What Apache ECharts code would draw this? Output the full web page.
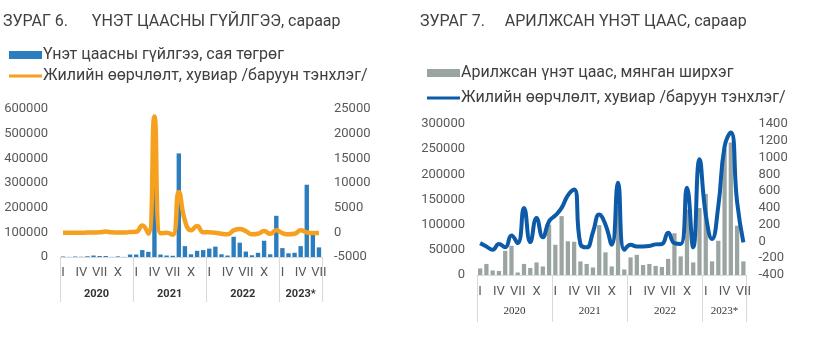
<!DOCTYPE html>
<html><head><meta charset="utf-8">
<script src="https://cdn.jsdelivr.net/npm/echarts@6/dist/echarts.min.js"></script>
<style>html,body{margin:0;padding:0;background:#fff}#c{width:825px;height:364px}</style>
</head><body><div id="c"></div>
<script>
// ---------- data ----------
const monthNames = ['I','II','III','IV','V','VI','VII','VIII','IX','X','XI','XII'];
const years = ['2020','2021','2022','2023*'];
const yearMonths = [12, 12, 12, 7];

const title1 = 'ЗУРАГ 6.      ҮНЭТ ЦААСНЫ ГҮЙЛГЭЭ, сараар';
const title2 = 'ЗУРАГ 7.     АРИЛЖСАН ҮНЭТ ЦААС, сараар';
const bar1Name = 'Үнэт цаасны гүйлгээ, сая төгрөг';
const line1Name = 'Жилийн өөрчлөлт, хувиар /баруун тэнхлэг/';
const bar2Name = 'Арилжсан үнэт цаас, мянган ширхэг';
const line2Name = 'Жилийн өөрчлөлт, хувиар /баруун тэнхлэг/';

// Figure 6: securities transactions, mln MNT (left) and y/y change % (right)
const bar1Values = [
  2000, 500, 2000, 1000, 3000, 6000, 4000, 4000, 500, 2500, 500, 10000,
  10000, 28000, 21000, 540000, 10000, 6000, 5000, 420000, 44000, 11000, 25000, 28000,
  34000, 42000, 11000, 6000, 82000, 58000, 22000, 7000, 17000, 66000, 11000, 167000,
  36000, 15000, 17000, 44000, 293000, 98000, 39000
];
const line1Values = [
  -100, -100, -100, -100, -50, -50, 0, 150, 0, -50, -50, 50,
  100, 1400, -300, 23500, -200, -100, -500, 8200, 2400, 400, 1300, 0,
  0, -100, -300, -400, 400, 700, 250, -400, -300, 250, -300, 400,
  -150, -400, -300, 400, 0, -150, -150
];
const left1Ticks = {min: 0, max: 600000, interval: 100000};
const right1Ticks = {min: -5000, max: 25000, interval: 5000};

// Figure 7: traded securities, thousand units (left) and y/y change % (right)
const bar2Values = [
  13000, 22000, 9000, 8000, 48000, 58000, 5000, 22000, 14000, 25000, 17000, 100000,
  60000, 117000, 67000, 66000, 27000, 22000, 15000, 99000, 45000, 17000, 136000, 11000,
  35000, 40000, 20000, 22000, 18000, 16000, 32000, 83000, 37000, 130000, 25000, 133000,
  161000, 27000, 68000, 250000, 263000, 98000, 27000
];
const line2Values = [
  -20, -60, -100, -30, -70, 70, -20, 400, -10, 280, 50, 240,
  310, 400, 550, 620, -30, -70, 110, 320, 200, -40, 700, -100,
  -40, -60, -60, -55, -35, -30, 105, -20, -30, 640, -70, 980,
  320, 30, 420, 1130, 1300, 470, -10
];
const left2Ticks = {min: 0, max: 300000, interval: 50000};
const right2Ticks = {min: -400, max: 1400, interval: 200};

// ---------- derived ----------
const categories = [];
years.forEach((y, yi) => { for (let m = 0; m < yearMonths[yi]; m++) categories.push(monthNames[m]); });
const total = categories.length;
const bounds = [0]; const mids = [];
yearMonths.forEach(n => { const s = bounds[bounds.length - 1]; mids.push(s + n / 2); bounds.push(s + n); });

const FONT = 'Roboto';
const AX = '#595959';

function monthAxis(grid, margin) {
  return {
    type: 'category', gridIndex: grid, data: categories, position: 'bottom',
    axisLine: {show: true, onZero: false, lineStyle: {color: '#d9d9d9', width: 1}},
    axisTick: {show: false},
    axisLabel: {interval: (i) => i % 3 === 0, margin: margin, fontSize: 13, color: AX, fontFamily: FONT}
  };
}
function yearAxis(grid, tickLen, margin, labelStyle) {
  return {
    type: 'value', gridIndex: grid, min: 0, max: total, position: 'bottom',
    axisLine: {show: false, onZero: false}, splitLine: {show: false},
    axisTick: {show: true, customValues: bounds, length: tickLen, lineStyle: {color: '#d9d9d9', width: 1}},
    axisLabel: Object.assign({
      customValues: mids, margin: margin, hideOverlap: false,
      formatter: (v) => { const k = mids.findIndex(m => Math.abs(m - v) < 1e-6); return k >= 0 ? years[k] : ''; }
    }, labelStyle)
  };
}
function valAxis(grid, pos, t) {
  return {
    type: 'value', gridIndex: grid, position: pos, min: t.min, max: t.max, interval: t.interval,
    axisLine: {show: false}, axisTick: {show: false}, splitLine: {show: false},
    axisLabel: {margin: 12, fontSize: 13, color: AX, fontFamily: FONT, formatter: (v) => String(v)}
  };
}

const ORANGE = '#F5A01F', BLUE = '#2C7DBD', NAVY = '#0C5AA8', GRAY = '#9AA5A2';
const LINE_ICON = 'path://M0 0H33V3H0Z';

const option = {
  backgroundColor: '#fff',
  animation: false,
  title: [
    {text: title1, left: 3, top: 14, padding: 0, textStyle: {fontSize: 16, fontWeight: 'normal', color: '#404040', fontFamily: FONT}},
    {text: title2, left: 420, top: 14, padding: 0, textStyle: {fontSize: 16, fontWeight: 'normal', color: '#404040', fontFamily: FONT}}
  ],
  legend: [
    {left: 9, top: 47, orient: 'vertical', itemWidth: 33, itemHeight: 8, itemGap: 5, padding: 0, selectedMode: false,
     textStyle: {fontSize: 16, color: '#404040', fontFamily: FONT, padding: [0, 0, 0, -4]},
     data: [{name: bar1Name, icon: 'rect'}, {name: line1Name, icon: LINE_ICON, itemStyle: {color: ORANGE}}]},
    {left: 427, top: 65, orient: 'vertical', itemWidth: 33, itemHeight: 8, itemGap: 9, padding: 0, selectedMode: false,
     textStyle: {fontSize: 16, color: '#404040', fontFamily: FONT, padding: [0, 0, 0, -4]},
     data: [{name: bar2Name, icon: 'rect'}, {name: line2Name, icon: LINE_ICON, itemStyle: {color: NAVY}}]}
  ],
  grid: [
    {left: 60, top: 109, width: 262, height: 148},
    {left: 477, top: 124, width: 269.5, height: 151}
  ],
  xAxis: [
    monthAxis(0, 9),
    yearAxis(0, 45, 32, {fontSize: 11, fontWeight: 'bold', color: '#333', fontFamily: FONT}),
    monthAxis(1, 10),
    yearAxis(1, 47, 31, {fontSize: 11, color: '#333', fontFamily: 'Liberation Serif'})
  ],
  yAxis: [
    valAxis(0, 'left', left1Ticks),
    valAxis(0, 'right', right1Ticks),
    valAxis(1, 'left', left2Ticks),
    valAxis(1, 'right', right2Ticks)
  ],
  series: [
    {name: bar1Name, type: 'bar', xAxisIndex: 0, yAxisIndex: 0, data: bar1Values, barCategoryGap: '28%', itemStyle: {color: BLUE}},
    {name: line1Name, type: 'line', xAxisIndex: 0, yAxisIndex: 1, data: line1Values, smooth: true, symbol: 'none', z: 5,
     lineStyle: {color: ORANGE, width: 4.5}, itemStyle: {color: ORANGE}},
    {name: bar2Name, type: 'bar', xAxisIndex: 2, yAxisIndex: 2, data: bar2Values, barCategoryGap: '32%', itemStyle: {color: GRAY}},
    {name: line2Name, type: 'line', xAxisIndex: 2, yAxisIndex: 3, data: line2Values, smooth: true, symbol: 'none', z: 5,
     lineStyle: {color: NAVY, width: 4}, itemStyle: {color: NAVY}}
  ]
};
const chart = echarts.init(document.getElementById('c'), null, {renderer: 'canvas'});
chart.setOption(option);
</script>
</body></html>
